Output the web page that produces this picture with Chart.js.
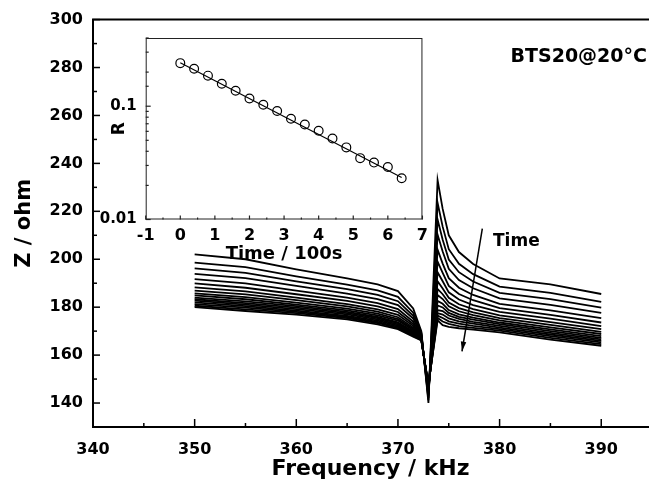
<!DOCTYPE html>
<html>
<head>
<meta charset="utf-8">
<script src="https://cdn.jsdelivr.net/npm/chart.js@4/dist/chart.umd.min.js"></script>
<style>
  html, body { margin: 0; padding: 0; background: #fff; }
  #wrap { position: relative; width: 649px; height: 485px; }
  #main { position: absolute; left: 0; top: 0; }
  #inset { position: absolute; left: 90px; top: 20px; }
</style>
</head>
<body>
<div id="wrap">
  <canvas id="main" width="649" height="485" style="width:649px;height:485px"></canvas>
  <canvas id="inset" width="345" height="255" style="width:345px;height:255px"></canvas>
</div>
<script>
// frequency points (kHz)
const freq = [350, 355, 360, 365, 368, 370, 371.5, 372.3, 373, 373.9, 374.4, 375, 376, 377.4, 380, 385, 390];

// impedance curves Z (ohm), first = earliest time
const t01 = [202.0,200.0,195.8,192.0,189.5,186.7,179.5,170.0,140.0,233.0,221.0,210.0,203.0,198.0,192.0,189.5,185.5];
const t02 = [198.6,196.7,192.9,189.4,187.0,184.3,177.7,169.4,141.2,223.6,213.6,204.2,198.1,193.8,188.6,186.0,182.2];
const t03 = [196.2,194.3,190.8,187.5,185.1,182.5,176.4,169.0,142.1,216.6,208.1,199.9,194.6,190.7,186.0,183.4,179.8];
const t04 = [193.9,192.1,188.9,185.7,183.4,180.9,175.2,168.6,142.9,210.3,203.2,196.0,191.3,187.9,183.7,181.0,177.6];
const t05 = [191.7,189.9,186.9,184.0,181.7,179.2,174.0,168.2,143.7,204.0,198.2,192.1,188.1,185.1,181.4,178.7,175.4];
const t06 = [189.9,188.1,185.4,182.6,180.3,178.0,173.0,167.8,144.3,199.0,194.3,188.9,185.5,182.9,179.6,176.8,173.6];
const t07 = [188.3,186.6,184.0,181.3,179.1,176.8,172.2,167.6,144.9,194.6,190.8,186.2,183.2,180.9,178.0,175.2,172.1];
const t08 = [186.9,185.3,182.9,180.3,178.1,175.8,171.5,167.3,145.4,190.8,187.8,183.9,181.2,179.2,176.6,173.8,170.8];
const t09 = [185.8,184.2,181.9,179.4,177.3,175.0,170.9,167.1,145.8,187.6,185.4,181.9,179.6,177.8,175.4,172.6,169.7];
const t10 = [184.9,183.3,181.1,178.7,176.6,174.4,170.4,167.0,146.1,185.1,183.4,180.4,178.3,176.7,174.5,171.6,168.8];
const t11 = [184.0,182.4,180.4,178.0,175.9,173.7,169.9,166.8,146.4,182.6,181.4,178.8,177.0,175.6,173.6,170.7,167.9];
const t12 = [183.3,181.7,179.8,177.5,175.4,173.3,169.5,166.7,146.6,180.7,179.9,177.6,176.0,174.8,172.9,170.0,167.2];
const t13 = [182.7,181.1,179.2,177.0,174.9,172.8,169.2,166.6,146.9,178.8,178.4,176.5,175.1,173.9,172.2,169.3,166.6];
const t14 = [182.0,180.4,178.6,176.4,174.4,172.3,168.8,166.4,147.1,177.5,176.9,175.3,174.1,173.1,171.5,168.6,165.9];
const t15 = [181.3,179.8,178.0,175.9,173.9,171.8,168.5,166.3,147.4,176.5,175.5,174.1,173.1,172.2,170.8,167.9,165.3];
const t16 = [180.6,179.1,177.5,175.4,173.4,171.3,168.1,166.2,147.6,175.5,174.0,173.0,172.1,171.4,170.2,167.2,164.6];
const t17 = [180.0,178.4,176.9,174.9,172.8,170.8,167.7,166.1,147.8,174.5,172.5,171.8,171.2,170.6,169.5,166.5,163.9];
const curves = [t01,t02,t03,t04,t05,t06,t07,t08,t09,t10,t11,t12,t13,t14,t15,t16,t17];

// inset: R vs time
const timeS = [0, 0.4, 0.8, 1.2, 1.6, 2.0, 2.4, 2.8, 3.2, 3.6, 4.0, 4.4, 4.8, 5.2, 5.6, 6.0, 6.4];
const ratioR = [0.240, 0.214, 0.186, 0.158, 0.137, 0.117, 0.103, 0.0908, 0.0775, 0.069, 0.0607, 0.0518, 0.0433, 0.0348, 0.0318, 0.0291, 0.0231];
const fitT = [0, 6.4];
const fitR = [0.242, 0.0235];

// "Time" arrow, data coords [freq, Z]
const arrowFrom = [378.3, 212.8];
const arrowTo = [376.3, 161.6];

const F = 'DejaVu Sans';
const bold = (size) => ({ family: F, size: size, weight: 'bold' });

function line(ctx, x1, y1, x2, y2) {
  ctx.beginPath(); ctx.moveTo(x1, y1); ctx.lineTo(x2, y2); ctx.stroke();
}

const mainDeco = {
  id: 'mainDeco',
  afterDraw(chart) {
    const { ctx, chartArea: a, scales: { x, y } } = chart;
    ctx.save();
    ctx.strokeStyle = '#000';
    ctx.lineWidth = 2;
    line(ctx, a.left - 1, a.top, a.right + 1, a.top);
    ctx.lineWidth = 1.5;
    const xt = x.ticks.map(t => t.value);
    xt.forEach((v, i) => {
      const px = x.getPixelForValue(v);
      line(ctx, px, a.bottom, px, a.bottom - 8);
      const m = v + 5;
      if (m < x.max) { const pm = x.getPixelForValue(m); line(ctx, pm, a.bottom, pm, a.bottom - 4); }
    });
    const yt = y.ticks.map(t => t.value);
    yt.forEach(v => {
      const py = y.getPixelForValue(v);
      line(ctx, a.left, py, a.left + 7, py);
      const m = v - 10;
      if (m > y.min) { const pm = y.getPixelForValue(m); line(ctx, a.left, pm, a.left + 4, pm); }
    });
    // arrow
    const x1 = x.getPixelForValue(arrowFrom[0]), y1 = y.getPixelForValue(arrowFrom[1]);
    const x2 = x.getPixelForValue(arrowTo[0]), y2 = y.getPixelForValue(arrowTo[1]);
    ctx.lineWidth = 1.5;
    line(ctx, x1, y1, x2, y2);
    const ang = Math.atan2(y2 - y1, x2 - x1);
    ctx.fillStyle = '#000';
    ctx.beginPath();
    ctx.moveTo(x2, y2);
    ctx.lineTo(x2 - 10 * Math.cos(ang - 0.28), y2 - 10 * Math.sin(ang - 0.28));
    ctx.lineTo(x2 - 10 * Math.cos(ang + 0.28), y2 - 10 * Math.sin(ang + 0.28));
    ctx.closePath();
    ctx.fill();
    // texts
    ctx.textBaseline = 'alphabetic';
    ctx.font = 'bold 17px "DejaVu Sans"';
    ctx.textAlign = 'left';
    ctx.fillText('Time', 493, 245.5);
    ctx.font = 'bold 19px "DejaVu Sans"';
    ctx.textAlign = 'right';
    ctx.fillText('BTS20@20°C', 647, 61.5);
    ctx.restore();
  }
};

new Chart(document.getElementById('main'), {
  type: 'line',
  data: {
    datasets: curves.map(c => ({
      data: freq.map((f, i) => ({ x: f, y: c[i] })),
      borderColor: '#000',
      borderWidth: 1.8,
      pointRadius: 0,
      fill: false,
      tension: 0
    }))
  },
  options: {
    responsive: false,
    animation: false,
    layout: { padding: { top: 17, right: 1, left: 0, bottom: 0 } },
    plugins: { legend: { display: false }, tooltip: { enabled: false } },
    scales: {
      x: {
        type: 'linear', min: 340, max: 394.6,
        afterFit(s) { s.height = 58; },
        grid: { display: false, drawTicks: false },
        border: { display: true, color: '#000', width: 2 },
        ticks: { stepSize: 10, includeBounds: false, padding: 13, color: '#000', font: bold(16), maxRotation: 0 },
        title: { display: true, text: 'Frequency / kHz', color: '#000', font: bold(22), padding: { top: 0, bottom: 3 } }
      },
      y: {
        type: 'linear', min: 130, max: 300,
        afterFit(s) { s.width = 93; },
        grid: { display: false, drawTicks: false },
        border: { display: true, color: '#000', width: 2 },
        ticks: { stepSize: 20, includeBounds: false, padding: 10, color: '#000', font: bold(16) },
        title: { display: true, text: 'Z / ohm', color: '#000', font: bold(21), padding: { top: 12, bottom: 0 } }
      }
    }
  },
  plugins: [mainDeco]
});

const insetDeco = {
  id: 'insetDeco',
  afterDraw(chart) {
    const { ctx, chartArea: a, scales: { x, y } } = chart;
    ctx.save();
    ctx.strokeStyle = '#222';
    ctx.lineWidth = 1;
    ctx.strokeRect(a.left + 0.5, a.top + 0.5, a.right - a.left - 1, a.bottom - a.top - 1);
    ctx.lineWidth = 1.2;
    x.ticks.forEach(t => {
      const px = x.getPixelForValue(t.value);
      line(ctx, px, a.bottom, px, a.bottom - 4);
      const m = t.value + 0.5;
      if (m < x.max) { const pm = x.getPixelForValue(m); line(ctx, pm, a.bottom, pm, a.bottom - 2); }
    });
    y.ticks.forEach(t => {
      const py = y.getPixelForValue(t.value);
      const l = Math.log10(t.value);
      const major = Math.abs(l - Math.round(l)) < 1e-6;
      line(ctx, a.left, py, a.left + (major ? 5 : 3), py);
    });
    ctx.restore();
  }
};

new Chart(document.getElementById('inset'), {
  type: 'line',
  data: {
    datasets: [
      {
        data: fitT.map((t, i) => ({ x: t, y: fitR[i] })),
        borderColor: '#000', borderWidth: 1.2, pointRadius: 0, fill: false, order: 2
      },
      {
        data: timeS.map((t, i) => ({ x: t, y: ratioR[i] })),
        showLine: false, pointStyle: 'circle', pointRadius: 4.4,
        pointBorderColor: '#000', pointBorderWidth: 1.2, pointBackgroundColor: 'rgba(255,255,255,0)', order: 1
      }
    ]
  },
  options: {
    responsive: false,
    animation: false,
    layout: { padding: { top: 6.7, right: 12.3, left: 0, bottom: 0 } },
    plugins: { legend: { display: false }, tooltip: { enabled: false } },
    scales: {
      x: {
        type: 'linear', min: -1, max: 7,
        afterFit(s) { s.height = 55.5; },
        grid: { display: false, drawTicks: false },
        border: { display: false },
        ticks: { stepSize: 1, padding: 7, color: '#000', font: bold(16), maxRotation: 0 },
        title: { display: true, text: 'Time / 100s', color: '#000', font: bold(18), padding: { top: 0, bottom: 9.5 } }
      },
      y: {
        type: 'logarithmic', min: 0.01, max: 0.4,
        afterFit(s) { s.width = 55.7; },
        grid: { display: false, drawTicks: false },
        border: { display: false },
        ticks: {
          autoSkip: false, padding: 9, color: '#000', font: bold(15),
          callback(v) { const l = Math.log10(v); return Math.abs(l - Math.round(l)) < 1e-6 ? String(v) : ''; }
        },
        title: { display: true, text: 'R', color: '#000', font: bold(17), padding: { top: 19, bottom: 0 } }
      }
    }
  },
  plugins: [insetDeco]
});
</script>
</body>
</html>
